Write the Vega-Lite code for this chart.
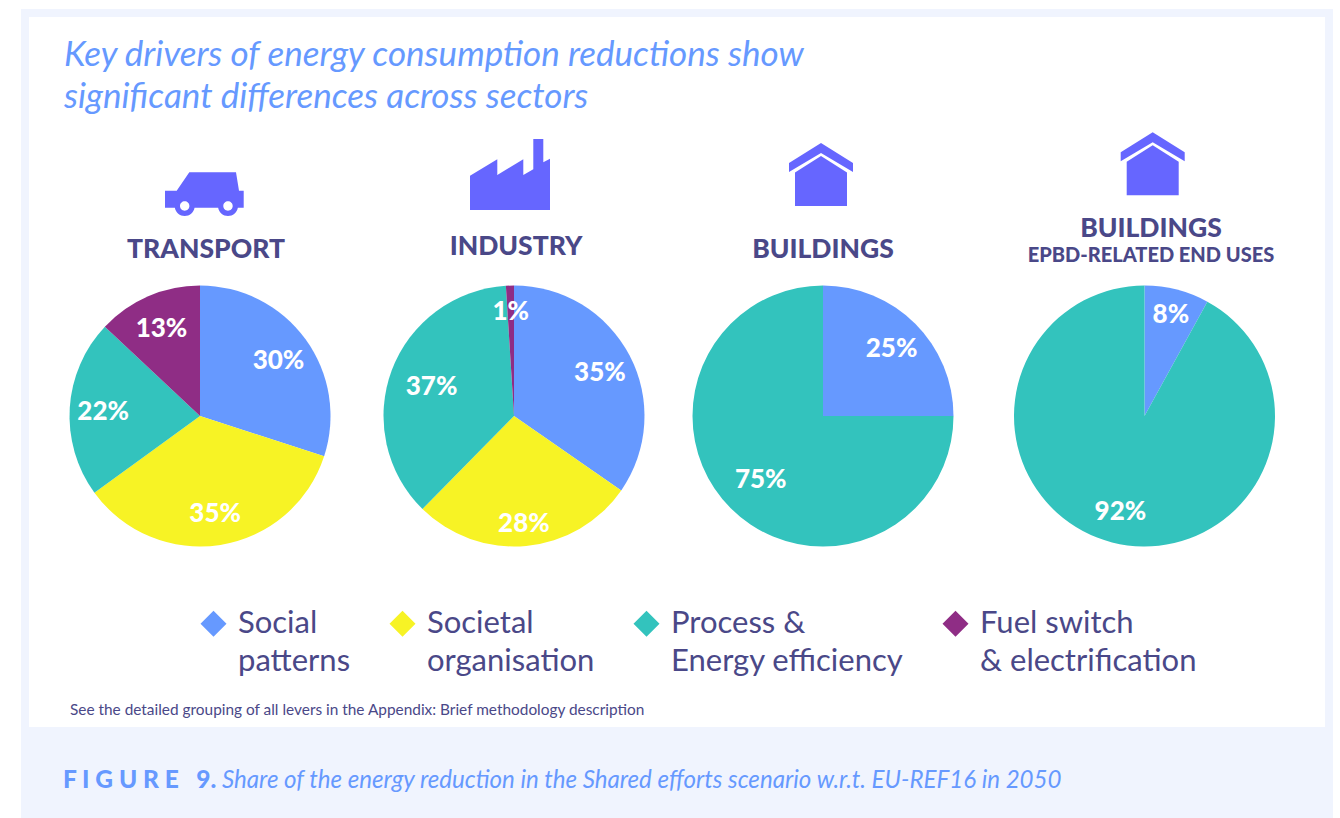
{
"$schema":"https://vega.github.io/schema/vega-lite/v6.json",
"width":1340,"height":818,"padding":0,"autosize":"none","background":"white",
"config":{"view":{"stroke":null},"font":"Lato"},
"title":{"text":["Key drivers of energy consumption reductions show","significant differences across sectors"],"anchor":"start","frame":"group","dx":64,"offset":-115,"baseline":"top","font":"Lato","fontStyle":"italic","fontWeight":400,"fontSize":35,"lineHeight":42,"color":"#6699ff"},
"datasets":{
"shares":[
{"sector":"Transport","column":1,"lever":"Social patterns","order":1,"share":30},
{"sector":"Transport","column":1,"lever":"Societal organisation","order":2,"share":35},
{"sector":"Transport","column":1,"lever":"Process & Energy efficiency","order":3,"share":22},
{"sector":"Transport","column":1,"lever":"Fuel switch & electrification","order":4,"share":13},
{"sector":"Industry","column":2,"lever":"Social patterns","order":1,"share":35},
{"sector":"Industry","column":2,"lever":"Societal organisation","order":2,"share":28},
{"sector":"Industry","column":2,"lever":"Process & Energy efficiency","order":3,"share":37},
{"sector":"Industry","column":2,"lever":"Fuel switch & electrification","order":4,"share":1},
{"sector":"Buildings","column":3,"lever":"Social patterns","order":1,"share":25},
{"sector":"Buildings","column":3,"lever":"Process & Energy efficiency","order":3,"share":75},
{"sector":"Buildings EPBD","column":4,"lever":"Social patterns","order":1,"share":8},
{"sector":"Buildings EPBD","column":4,"lever":"Process & Energy efficiency","order":3,"share":92}
],
"headers":[
{"column":1,"name":"TRANSPORT","icon":"car"},
{"column":2,"name":"INDUSTRY","icon":"factory"},
{"column":3,"name":"BUILDINGS","icon":"house"},
{"column":4,"name":"BUILDINGS","icon":"house"}
]},
"layer":[
{"data":{"values":[{"panel":"frame"}]},"mark":{"type":"rect","color":"#f0f4fe"},"encoding":{"x":{"value":21},"x2":{"value":1333},"y":{"value":9},"y2":{"value":818}}},
{"data":{"values":[{"panel":"card"}]},"mark":{"type":"rect","color":"#ffffff"},"encoding":{"x":{"value":29},"x2":{"value":1325},"y":{"value":17},"y2":{"value":727}}},
{"data":{"name":"headers"},"mark":{"type":"point","filled":true,"opacity":1,"color":"#6666ff","size":4},
"encoding":{
"x":{"field":"column","type":"quantitative","axis":null,"scale":{"domain":[1,2,3,4],"range":[204,510,821,1152.7],"zero":false,"nice":false}},
"y":{"field":"column","type":"quantitative","axis":null,"scale":{"domain":[1,2,3,4],"range":[193,175,175,164.3],"zero":false,"nice":false}},
"shape":{"field":"column","type":"nominal","legend":null,"scale":{"domain":[1,2,3,4],"range":[
"M-14.7,-20.7 L32,-20.7 L35,-2.3 L39.7,-2.3 L39.7,14.7 L33.85,14.7 A10,10 0 0 1 14.15,14.7 L-9.45,14.7 A10,10 0 0 1 -29.15,14.7 L-39,14.7 L-39,-2.3 L-27.3,-2.3 Z M24,8.3 A4.7,4.7 0 1 0 24,17.7 A4.7,4.7 0 1 0 24,8.3 Z M-19.3,8.3 A4.7,4.7 0 1 0 -19.3,17.7 A4.7,4.7 0 1 0 -19.3,8.3 Z",
"M-40,0.7 L-12.7,-15.7 L-12.7,0 L13.3,-15.7 L13.3,0 L23.3,-5.7 L23.3,-36 L33.3,-36 L33.3,-12.7 L40,-16.3 L40,35 L-40,35 Z",
"M0,-32 L32,-12 L32,-3 L0,-22 L-32,-3 L-32,-12 Z M0,-19 L26,-2.5 L26,31 L-26,31 L-26,-2.5 Z",
"M0,-32 L32,-12 L32,-3 L0,-22 L-32,-3 L-32,-12 Z M0,-19 L26,-2.5 L26,31 L-26,31 L-26,-2.5 Z"]}}
}},
{"data":{"name":"headers"},"mark":{"type":"text","font":"Lato","fontWeight":900,"fontSize":26.5,"color":"#4a4888","baseline":"middle"},
"encoding":{"text":{"field":"name"},
"x":{"field":"column","type":"quantitative","axis":null,"scale":{"domain":[1,2,3,4],"range":[206,516,823,1151],"zero":false,"nice":false}},
"y":{"field":"column","type":"quantitative","axis":null,"scale":{"domain":[1,2,3,4],"range":[250,247,250,229],"zero":false,"nice":false}}
}},
{"data":{"values":[{"column":4,"name":"EPBD-RELATED END USES"}]},"mark":{"type":"text","font":"Lato","fontWeight":900,"fontSize":20,"color":"#4a4888","baseline":"middle"},
"encoding":{"text":{"field":"name"},"x":{"value":1151},"y":{"value":256}}},
{"data":{"name":"shares"},
"transform":[{"stack":"share","groupby":["column"],"sort":[{"field":"order","order":"ascending"}],"offset":"normalize","as":["s0","s1"]}],
"mark":{"type":"arc","outerRadius":130.5},
"encoding":{
"x":{"field":"column","type":"quantitative","stack":null,"axis":null,"scale":{"domain":[1,2,3,4],"range":[200,514,823,1144.5],"zero":false,"nice":false}},
"y":{"value":416},
"theta":{"field":"s0","type":"quantitative","stack":null,"scale":{"domain":[0,1],"range":[0,6.283185307]}},
"theta2":{"field":"s1"},
"color":{"field":"lever","type":"nominal","scale":{"domain":["Social patterns","Societal organisation","Process & Energy efficiency","Fuel switch & electrification"],"range":["#6699ff","#f7f325","#33c3bd","#8f2d85"]},
"legend":{"orient":"none","legendX":198,"legendY":608,"direction":"horizontal","columns":4,"columnPadding":36,"title":null,"symbolType":"diamond","symbolSize":676,"symbolStrokeWidth":0,"labelFont":"Lato","labelFontSize":31,"labelColor":"#4a4888","labelLimit":500,"labelOffset":9,"labelBaseline":"middle",
"labelExpr":"datum.label=='Social patterns'?['Social','patterns']:datum.label=='Societal organisation'?['Societal','organisation']:datum.label=='Process & Energy efficiency'?['Process &','Energy efficiency']:['Fuel switch','& electrification']",
"encoding":{"labels":{"lineHeight":{"value":38}}}}}
}},
{"data":{"name":"shares"},
"transform":[{"stack":"share","groupby":["column"],"sort":[{"field":"order","order":"ascending"}],"offset":"normalize","as":["s0","s1"]},{"calculate":"(datum.s0+datum.s1)/2","as":"mid"},{"calculate":"datum.share+'%'","as":"label"}],
"mark":{"type":"text","font":"Lato","fontWeight":900,"fontSize":26,"dy":2,"color":"#ffffff","radius":{"expr":"datum.share==1||datum.share==28||datum.share==8?106:(datum.share==37||datum.share==75)?88:97"}},
"encoding":{
"x":{"field":"column","type":"quantitative","stack":null,"axis":null,"scale":{"domain":[1,2,3,4],"range":[200,514,823,1144.5],"zero":false,"nice":false}},
"y":{"value":416},
"theta":{"field":"mid","type":"quantitative","stack":null,"scale":{"domain":[0,1],"range":[0,6.283185307]}},
"text":{"field":"label"}
}},
{"data":{"values":[{"note":"See the detailed grouping of all levers in the Appendix: Brief methodology description"}]},"mark":{"type":"text","font":"Lato","fontSize":15.4,"color":"#4a4888","align":"left","baseline":"middle"},"encoding":{"text":{"field":"note"},"x":{"value":70},"y":{"value":710}}},
{"data":{"values":[{"note":"F I G U R E \u00a0\u00a09."}]},"mark":{"type":"text","font":"Lato","fontWeight":900,"fontSize":24.5,"color":"#6699ff","align":"left","baseline":"middle"},"encoding":{"text":{"field":"note"},"x":{"value":63},"y":{"value":781}}},
{"data":{"values":[{"note":"Share of the energy reduction in the Shared efforts scenario w.r.t. EU-REF16  in 2050"}]},"mark":{"type":"text","font":"Lato","fontStyle":"italic","fontSize":24.1,"color":"#6699ff","align":"left","baseline":"middle"},"encoding":{"text":{"field":"note"},"x":{"value":222},"y":{"value":781}}}
],
"resolve":{"scale":{"x":"independent","y":"independent"}}
}
